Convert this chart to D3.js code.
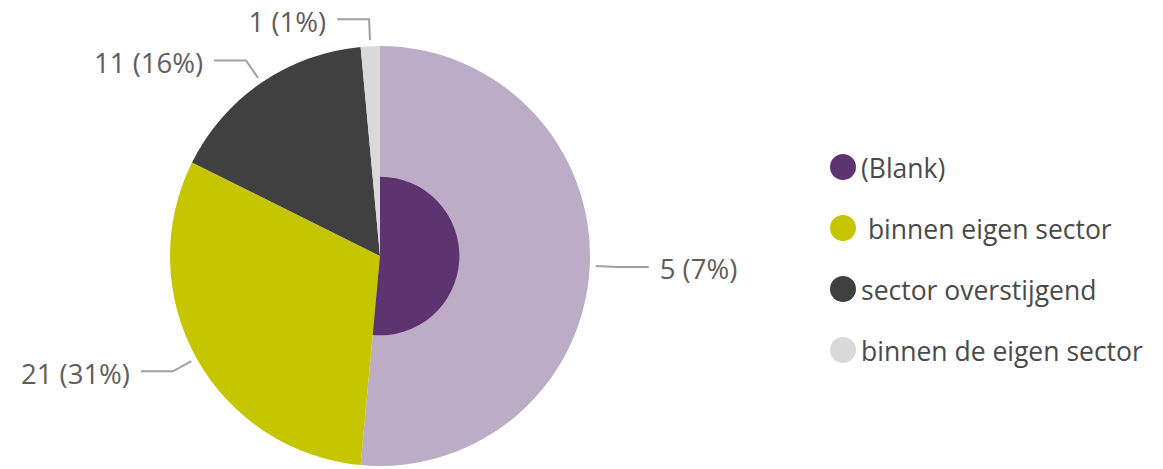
<!DOCTYPE html>
<html>
<head>
<meta charset="utf-8">
<script src="https://cdn.jsdelivr.net/npm/d3@7"></script>
<style>
  body { margin: 0; background: #fff; }
  svg text { font-family: "Open Sans", "Noto Sans", sans-serif; }
</style>
</head>
<body>
<svg id="chart"></svg>
<script>
// data
const categories = ["(Blank)", " binnen eigen sector", "sector overstijgend", "binnen de eigen sector"];
const values = [35, 21, 11, 1];          // full slice values
const highlighted = [5, 21, 11, 1];      // highlighted part, shown in labels

const fullColors = ["#5e3470", "#c5c600", "#404040", "#d9d9d9"];
const fadedColors = ["#bcacc6", "#e6e699", "#a6a6a6", "#ececec"];

const width = 1163, height = 469;
const cx = 380, cy = 256, radius = 210;

const svg = d3.select("#chart").attr("width", width).attr("height", height);

const total = d3.sum(values);
const rows = categories.map((c, i) => ({ name: c, value: values[i], hi: highlighted[i], i }));

const pie = d3.pie().value(d => d.value).sort(null);
const arcs = pie(rows);

const g = svg.append("g").attr("transform", `translate(${cx},${cy})`);

const outerArc = d3.arc().innerRadius(0).outerRadius(radius);

// base slices (faded when only a part is highlighted)
g.selectAll("path.base")
  .data(arcs)
  .enter().append("path")
  .attr("class", "base")
  .attr("d", outerArc)
  .attr("fill", d => d.data.hi < d.data.value ? fadedColors[d.data.i] : fullColors[d.data.i]);

// highlighted part drawn with a smaller radius (area proportional)
g.selectAll("path.hi")
  .data(arcs.filter(d => d.data.hi < d.data.value))
  .enter().append("path")
  .attr("class", "hi")
  .attr("d", d => d3.arc().innerRadius(0).outerRadius(radius * Math.sqrt(d.data.hi / d.data.value))(d))
  .attr("fill", d => fullColors[d.data.i]);

// leader lines + labels
const startArc = d3.arc().innerRadius(radius + 6).outerRadius(radius + 6);
const elbowArc = d3.arc().innerRadius(radius + 27).outerRadius(radius + 27);
const hLen = 32, gap = 11;

arcs.forEach(d => {
  const mid = (d.startAngle + d.endAngle) / 2;
  const side = Math.sin(mid) >= 0 ? 1 : -1;
  const p0 = startArc.centroid(d);
  const p1 = elbowArc.centroid(d);
  const p2 = [p1[0] + side * hLen, p1[1]];
  g.append("polyline")
    .attr("points", [p0, p1, p2].map(p => p.join(",")).join(" "))
    .attr("fill", "none")
    .attr("stroke", "#a0a0a0")
    .attr("stroke-width", 2);
  const pct = Math.round(d.data.hi / total * 100);
  g.append("text")
    .attr("x", p2[0] + side * gap)
    .attr("y", p2[1] + 2)
    .attr("text-anchor", side > 0 ? "start" : "end")
    .attr("dominant-baseline", "central")
    .attr("font-size", 27.5)
    .attr("fill", "#605e5c")
    .text(`${d.data.hi} (${pct}%)`);
});

// legend
const legend = svg.append("g").attr("transform", "translate(843,167)");
const item = legend.selectAll("g.item")
  .data(rows)
  .enter().append("g")
  .attr("class", "item")
  .attr("transform", (d, i) => `translate(0,${i * 61})`);

item.append("circle")
  .attr("r", 13)
  .attr("fill", d => fullColors[d.i]);

item.append("text")
  .attr("x", 18)
  .attr("y", 1)
  .attr("dominant-baseline", "central")
  .attr("font-size", 26.5)
  .attr("fill", "#4a4a4a")
  .style("white-space", "pre")
  .text(d => d.name);
</script>
</body>
</html>
